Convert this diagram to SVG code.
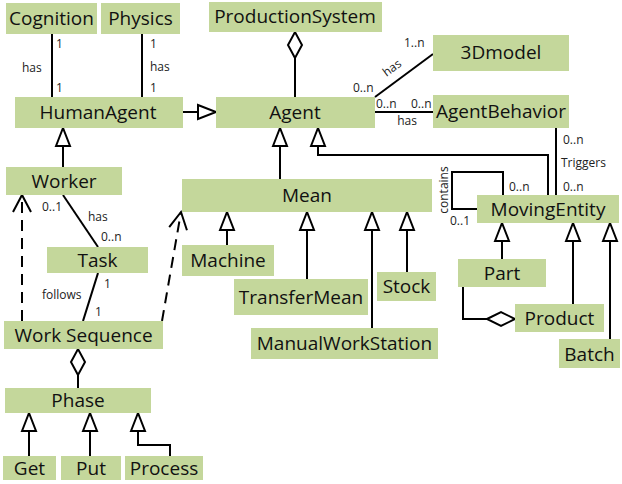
<svg xmlns="http://www.w3.org/2000/svg" width="622" height="484" viewBox="0 0 622 484">
<style>
.n rect{fill:#c4d79b;}
.n text{font-family:"Open Sans",Lato,sans-serif;font-size:19px;fill:#111;text-anchor:middle;}
.c path{fill:none;stroke:#000;stroke-width:2;}
.c .d{stroke-dasharray:11,7;}
.l{font-family:"Open Sans",Lato,sans-serif;font-size:12px;fill:#222;}
</style>
<defs>
<marker id="gen" markerUnits="userSpaceOnUse" markerWidth="22" markerHeight="16" refX="18" refY="7" orient="auto" overflow="visible">
<path d="M0,0 L18,7 L0,14 z" fill="#fff" stroke="#000" stroke-width="2"/>
</marker>
<marker id="open" markerUnits="userSpaceOnUse" markerWidth="22" markerHeight="20" refX="17" refY="9" orient="auto" overflow="visible">
<path d="M0,0 L17,9 L0,18" fill="none" stroke="#000" stroke-width="2"/>
</marker>
<marker id="dia" markerUnits="userSpaceOnUse" markerWidth="30" markerHeight="18" refX="26" refY="7" orient="auto" overflow="visible">
<path d="M0,7 L13,0 L26,7 L13,14 z" fill="#fff" stroke="#000" stroke-width="2"/>
</marker>
<marker id="dia2" markerUnits="userSpaceOnUse" markerWidth="32" markerHeight="18" refX="28" refY="7" orient="auto" overflow="visible">
<path d="M0,7 L14,0 L28,7 L14,14 z" fill="#fff" stroke="#000" stroke-width="2"/>
</marker>
</defs>
<g id="connectors" class="c">
<path d="M52,34 V97"/>
<path d="M142,34 V97"/>
<path d="M183,112 H216" marker-end="url(#gen)"/>
<path d="M295,97 V32" marker-end="url(#dia)"/>
<path d="M375,97 L433,54"/>
<path d="M375,112 H433"/>
<path d="M556,128 V195"/>
<path d="M63,167 V128" marker-end="url(#gen)"/>
<path d="M280,179 V128" marker-end="url(#gen)"/>
<path d="M548,195 V155 H318 V128" marker-end="url(#gen)"/>
<path d="M63,195 L98,247"/>
<path d="M98,273 L83,321"/>
<path class="d" d="M22,321 V195" marker-end="url(#open)"/>
<path class="d" d="M162,321 L181,212" marker-end="url(#open)"/>
<path d="M503,195 V172 H452 V209 H477"/>
<path d="M227,245 V212" marker-end="url(#gen)"/>
<path d="M307,279 V212" marker-end="url(#gen)"/>
<path d="M372,328 V212" marker-end="url(#gen)"/>
<path d="M407,272 V212" marker-end="url(#gen)"/>
<path d="M502,259 V223" marker-end="url(#gen)"/>
<path d="M573,304 V223" marker-end="url(#gen)"/>
<path d="M610,339 V223" marker-end="url(#gen)"/>
<path d="M463,287 V319 H515" marker-end="url(#dia2)"/>
<path d="M78,388 V349" marker-end="url(#dia)"/>
<path d="M29,456 V413" marker-end="url(#gen)"/>
<path d="M90,456 V413" marker-end="url(#gen)"/>
<path d="M170,456 V445 H138 V413" marker-end="url(#gen)"/>
</g>
<g id="labels">
<text class="l" x="56" y="48">1</text>
<text class="l" x="22" y="72">has</text>
<text class="l" x="56" y="92">1</text>
<text class="l" x="150" y="48">1</text>
<text class="l" x="150" y="71">has</text>
<text class="l" x="150" y="92">1</text>
<text class="l" x="404" y="47">1..n</text>
<text class="l" x="392" y="72" text-anchor="middle" transform="rotate(-36.6 392 68)">has</text>
<text class="l" x="353" y="92">0..n</text>
<text class="l" x="376" y="108">0..n</text>
<text class="l" x="411" y="108">0..n</text>
<text class="l" x="407" y="125" text-anchor="middle">has</text>
<text class="l" x="563" y="144">0..n</text>
<text class="l" x="561" y="167">Triggers</text>
<text class="l" x="563" y="191">0..n</text>
<text class="l" x="509" y="191">0..n</text>
<text class="l" x="450" y="225">0..1</text>
<text class="l" x="444" y="194" text-anchor="middle" transform="rotate(-90 444 190)">contains</text>
<text class="l" x="42" y="211">0..1</text>
<text class="l" x="88" y="221">has</text>
<text class="l" x="101" y="241">0..n</text>
<text class="l" x="104" y="288">1</text>
<text class="l" x="42" y="299">follows</text>
<text class="l" x="95" y="316">1</text>
</g>
<g id="Cognition" class="n"><rect x="6" y="3" width="91" height="31"/><text x="51.5" y="25">Cognition</text></g>
<g id="Physics" class="n"><rect x="101" y="3" width="79" height="31"/><text x="140.5" y="25">Physics</text></g>
<g id="HumanAgent" class="n"><rect x="15" y="97" width="168" height="31"/><text x="98" y="119">HumanAgent</text></g>
<g id="ProductionSystem" class="n"><rect x="209" y="2" width="173" height="30"/><text x="295" y="23">ProductionSystem</text></g>
<g id="Agent" class="n"><rect x="216" y="97" width="159" height="31"/><text x="295" y="119">Agent</text></g>
<g id="3Dmodel" class="n"><rect x="433" y="35" width="136" height="36"/><text x="501" y="59">3Dmodel</text></g>
<g id="AgentBehavior" class="n"><rect x="433" y="95" width="136" height="33"/><text x="501" y="118">AgentBehavior</text></g>
<g id="Worker" class="n"><rect x="6" y="167" width="116" height="28"/><text x="64" y="188">Worker</text></g>
<g id="Mean" class="n"><rect x="182" y="179" width="250" height="33"/><text x="307" y="202">Mean</text></g>
<g id="MovingEntity" class="n"><rect x="477" y="195" width="142" height="28"/><text x="548" y="216">MovingEntity</text></g>
<g id="Task" class="n"><rect x="47" y="247" width="101" height="26"/><text x="97.5" y="267">Task</text></g>
<g id="Machine" class="n"><rect x="182" y="245" width="92" height="31"/><text x="228" y="267">Machine</text></g>
<g id="TransferMean" class="n"><rect x="234" y="279" width="134" height="36"/><text x="301" y="304">TransferMean</text></g>
<g id="Stock" class="n"><rect x="377" y="272" width="59" height="29"/><text x="406.5" y="293">Stock</text></g>
<g id="ManualWorkStation" class="n"><rect x="251" y="328" width="187" height="31"/><text x="344.5" y="350">ManualWorkStation</text></g>
<g id="Part" class="n"><rect x="458" y="259" width="88" height="28"/><text x="502" y="280">Part</text></g>
<g id="Product" class="n"><rect x="515" y="304" width="89" height="28"/><text x="559.5" y="325">Product</text></g>
<g id="Batch" class="n"><rect x="559" y="339" width="61" height="29"/><text x="589.5" y="361">Batch</text></g>
<g id="WorkSequence" class="n"><rect x="4" y="321" width="159" height="28"/><text x="83.5" y="342">Work Sequence</text></g>
<g id="Phase" class="n"><rect x="5" y="388" width="146" height="25"/><text x="78" y="407">Phase</text></g>
<g id="Get" class="n"><rect x="3" y="456" width="53" height="24"/><text x="29.5" y="475">Get</text></g>
<g id="Put" class="n"><rect x="61" y="456" width="60" height="24"/><text x="91" y="475">Put</text></g>
<g id="Process" class="n"><rect x="125" y="456" width="78" height="24"/><text x="164" y="475">Process</text></g>
</svg>
